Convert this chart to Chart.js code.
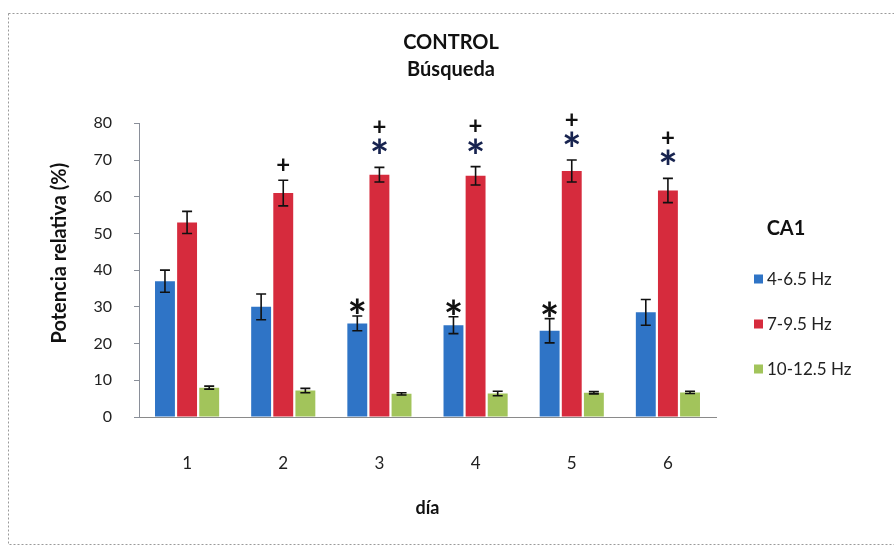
<!DOCTYPE html>
<html>
<head>
<meta charset="utf-8">
<script src="https://cdn.jsdelivr.net/npm/chart.js@4.4.1/dist/chart.umd.min.js"></script>
<style>
  html, body { margin: 0; padding: 0; background: #ffffff; }
  #wrap { width: 894px; height: 548px; }
</style>
</head>
<body>
<div id="wrap"><canvas id="chart" width="894" height="548"></canvas></div>
<script>
// Days of the search task
const days = ['1', '2', '3', '4', '5', '6'];

// Frequency bands recorded in CA1
const bandLabels = ['4-6.5 Hz', '7-9.5 Hz', '10-12.5 Hz'];

// Relative power (%) per band, mean and error
const band4to6 = [37, 30, 25.5, 25, 23.5, 28.5];
const band4to6Err = [3, 3.5, 2, 2.3, 3.3, 3.5];
const band7to9 = [53, 61, 66, 65.7, 67, 61.7];
const band7to9Err = [3, 3.5, 2, 2.5, 3, 3.3];
const band10to12 = [8, 7.2, 6.3, 6.4, 6.6, 6.7];
const band10to12Err = [0.4, 0.6, 0.3, 0.6, 0.3, 0.3];

// Y axis range and step
const yMin = 0;
const yMax = 80;
const yStep = 10;

// Significance marks: '*' and '+' per day
const star4to6 = [false, false, true, true, true, false];
const star7to9 = [false, false, true, true, true, true];
const plus7to9 = [false, true, true, true, true, true];

const bandColors = ['#2f74c6', '#d62b3d', '#a2c45b'];
const errors = [band4to6Err, band7to9Err, band10to12Err];

const FONT = 'Lato, "Open Sans", "DejaVu Sans", sans-serif';

// White page with a dashed frame
const framePlugin = {
  id: 'frame',
  beforeDraw(chart) {
    const ctx = chart.ctx;
    ctx.save();
    ctx.fillStyle = '#ffffff';
    ctx.fillRect(0, 0, chart.width, chart.height);
    ctx.strokeStyle = '#9a9a9a';
    ctx.lineWidth = 1;
    ctx.setLineDash([2, 2]);
    ctx.strokeRect(8.5, 13.5, chart.width + 10, chart.height - 17);
    ctx.restore();
  }
};

// Error bars drawn from each dataset's error array
const errorBarPlugin = {
  id: 'errorBars',
  afterDatasetsDraw(chart) {
    const ctx = chart.ctx;
    const yScale = chart.scales.y;
    ctx.save();
    ctx.strokeStyle = '#111111';
    ctx.lineWidth = 1.6;
    chart.data.datasets.forEach((ds, i) => {
      const meta = chart.getDatasetMeta(i);
      meta.data.forEach((bar, j) => {
        const v = ds.data[j];
        const e = errors[i][j];
        const yTop = yScale.getPixelForValue(v + e);
        const yBot = yScale.getPixelForValue(v - e);
        const x = bar.x;
        const half = 5;
        ctx.beginPath();
        ctx.moveTo(x, yTop); ctx.lineTo(x, yBot);
        ctx.moveTo(x - half, yTop); ctx.lineTo(x + half, yTop);
        ctx.moveTo(x - half, yBot); ctx.lineTo(x + half, yBot);
        ctx.stroke();
      });
    });
    ctx.restore();
  }
};

function drawGlyph(ctx, ch, x, cy, font, color) {
  ctx.font = font;
  ctx.fillStyle = color;
  ctx.textAlign = 'center';
  ctx.textBaseline = 'alphabetic';
  const m = ctx.measureText(ch);
  const y = cy + (m.actualBoundingBoxAscent - m.actualBoundingBoxDescent) / 2;
  ctx.fillText(ch, x, y);
}

// Significance symbols above the bars
const marksPlugin = {
  id: 'marks',
  afterDatasetsDraw(chart) {
    const ctx = chart.ctx;
    const yScale = chart.scales.y;
    ctx.save();
    const low = chart.getDatasetMeta(0);
    low.data.forEach((bar, j) => {
      if (!star4to6[j]) return;
      const top = yScale.getPixelForValue(band4to6[j] + band4to6Err[j]);
      drawGlyph(ctx, '*', bar.x, top - 10, 'bold 46px ' + FONT, '#111111');
    });
    const mid = chart.getDatasetMeta(1);
    mid.data.forEach((bar, j) => {
      const top = yScale.getPixelForValue(band7to9[j] + band7to9Err[j]);
      let cy = top;
      if (star7to9[j]) {
        cy = top - 21;
        drawGlyph(ctx, '*', bar.x, cy, 'bold 46px ' + FONT, '#17234f');
      }
      if (plus7to9[j]) {
        const py = star7to9[j] ? cy - 20 : top - 16;
        drawGlyph(ctx, '+', bar.x, py, 'bold 24px ' + FONT, '#111111');
      }
    });
    ctx.restore();
  }
};

// Legend block on the right: region name and one swatch per band
const bandLegendPlugin = {
  id: 'bandLegend',
  afterDraw(chart) {
    const ctx = chart.ctx;
    const left = chart.chartArea.right + 38;
    ctx.save();
    ctx.fillStyle = '#111111';
    ctx.textAlign = 'center';
    ctx.textBaseline = 'middle';
    ctx.font = 'bold 20px ' + FONT;
    ctx.fillText('CA1', left + 32, 229);
    ctx.textAlign = 'left';
    ctx.font = '17px ' + FONT;
    chart.data.datasets.forEach((ds, i) => {
      const cy = 279 + i * 45;
      ctx.fillStyle = ds.backgroundColor;
      ctx.fillRect(left, cy - 4.5, 9, 9);
      ctx.fillStyle = '#222222';
      ctx.fillText(ds.label, left + 13, cy + 1);
    });
    ctx.restore();
  }
};

new Chart(document.getElementById('chart'), {
  type: 'bar',
  data: {
    labels: days,
    datasets: [
      { label: bandLabels[0], data: band4to6, backgroundColor: bandColors[0] },
      { label: bandLabels[1], data: band7to9, backgroundColor: bandColors[1] },
      { label: bandLabels[2], data: band10to12, backgroundColor: bandColors[2] }
    ]
  },
  options: {
    responsive: false,
    animation: false,
    devicePixelRatio: 1,
    categoryPercentage: 0.69,
    barPercentage: 0.9,
    layout: { padding: { left: 8, right: 0, top: 0, bottom: 0 } },
    plugins: {
      legend: { display: false },
      tooltip: { enabled: false },
      title: {
        display: true,
        text: ['CONTROL', 'Búsqueda'],
        color: '#111111',
        font: { family: FONT, size: 20, weight: 'bold', lineHeight: 1.35 },
        padding: { top: 29.5, bottom: 39.8 }
      }
    },
    scales: {
      x: {
        grid: { display: false },
        border: { display: true, color: '#8a8a8a', width: 1 },
        ticks: { color: '#222222', font: { family: FONT, size: 17 }, padding: 28 },
        title: {
          display: true,
          text: 'día',
          color: '#111111',
          font: { family: FONT, size: 18, weight: 'bold' },
          padding: { top: 0, bottom: 29.5 }
        },
        afterFit(scale) { scale.height = 131; }
      },
      y: {
        min: yMin,
        max: yMax,
        ticks: { stepSize: yStep, color: '#222222', font: { family: FONT, size: 16 }, padding: 22 },
        grid: { drawOnChartArea: false, drawTicks: true, tickLength: 5, color: '#8a8f99' },
        border: { display: true, color: '#8a8f99', width: 1, dash: [2, 1] },
        title: {
          display: true,
          text: '       Potencia relativa (%)',
          color: '#111111',
          font: { family: FONT, size: 20, weight: 'bold' },
          padding: { top: 40, bottom: 0 }
        },
        afterFit(scale) { scale.width = 131; }
      },
      gap: {
        type: 'linear',
        position: 'right',
        display: true,
        grid: { display: false },
        border: { display: false },
        ticks: { display: false },
        afterFit(scale) { scale.width = 178; }
      }
    }
  },
  plugins: [framePlugin, errorBarPlugin, marksPlugin, bandLegendPlugin]
});
</script>
</body>
</html>
